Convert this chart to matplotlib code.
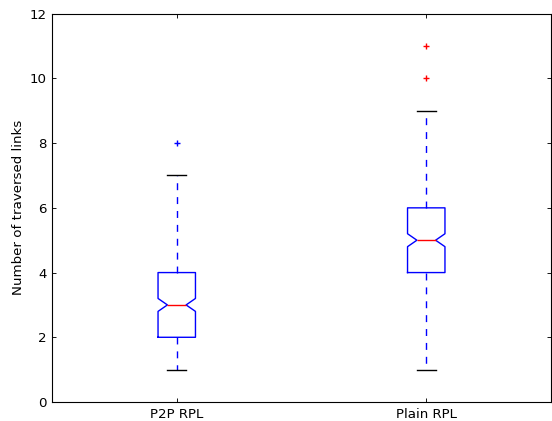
import matplotlib
matplotlib.use('Agg')
import matplotlib.pyplot as plt

# box statistics
labels = ['P2P RPL', 'Plain RPL']
medians = [3, 5]
q1 = [2, 4]
q3 = [4, 6]
whislo = [1, 1]
whishi = [7, 9]
cilo = [2.8, 4.8]
cihi = [3.2, 5.2]
fliers = [[8], [10, 11]]
flier_colors = ['b', 'r']

stats = []
for i in range(len(labels)):
    stats.append(dict(label=labels[i], med=medians[i], q1=q1[i], q3=q3[i],
                      whislo=whislo[i], whishi=whishi[i],
                      cilo=cilo[i], cihi=cihi[i], fliers=fliers[i]))

fig = plt.figure(figsize=(6.9, 5.2625), dpi=80)
ax = fig.add_axes([52 / 552, 19 / 421, 499 / 552, 388.3 / 421])

lw = 1.25
bp = ax.bxp(stats, positions=[1, 2], widths=0.15, shownotches=True,
            boxprops=dict(color='b', linewidth=lw),
            medianprops=dict(color='r', linewidth=lw),
            whiskerprops=dict(color='b', linewidth=lw, linestyle=(0, (5, 5))),
            capprops=dict(color='k', linewidth=lw),
            flierprops=dict(marker='+', linestyle='none', markersize=6,
                            markeredgewidth=lw))
for fl, c in zip(bp['fliers'], flier_colors):
    fl.set_markeredgecolor(c)

ax.set_xlim(0.5, 2.5)
ax.set_ylim(0, 12)
ax.set_yticks(range(0, 13, 2))
ax.set_ylabel('Number of traversed links', fontsize=12)
ax.tick_params(direction='in', top=True, right=True, length=4, labelsize=12, pad=5)
for s in ax.spines.values():
    s.set_linewidth(1.0)

fig.savefig('out.png', dpi=80)
